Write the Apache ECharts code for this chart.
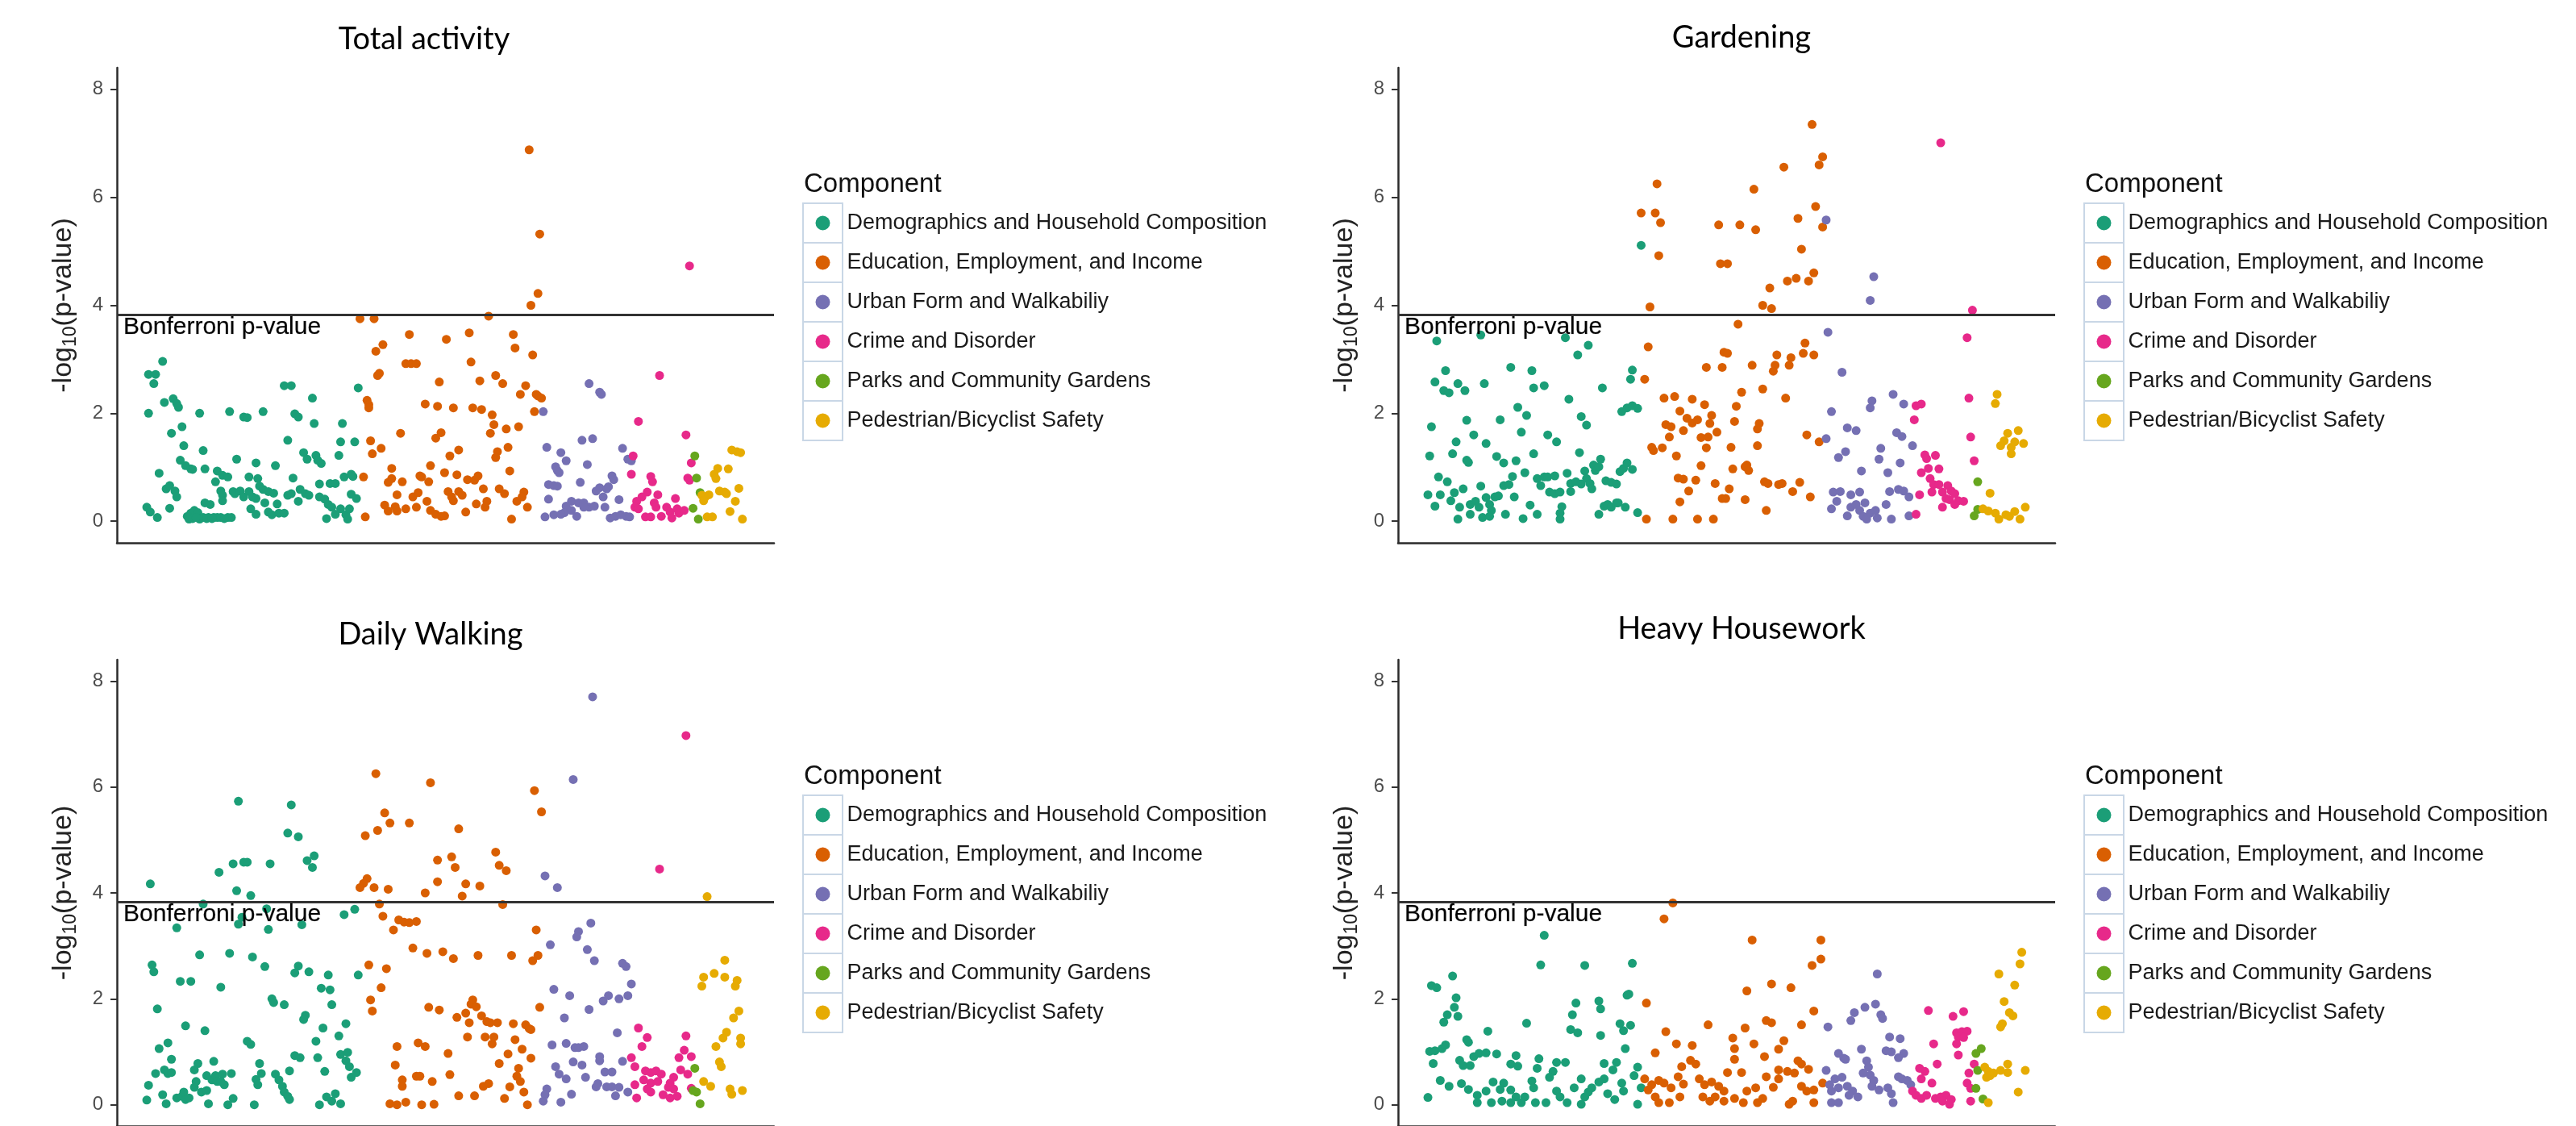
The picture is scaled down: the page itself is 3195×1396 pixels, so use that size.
<!DOCTYPE html>
<html>
<head>
<meta charset="utf-8">
<title>Manhattan plots by component</title>
<script src="https://cdn.jsdelivr.net/npm/echarts@6/dist/echarts.min.js"></script>
<style>
  html, body { margin: 0; padding: 0; background: #fff; }
  #chart { width: 3195px; height: 1396px; }
</style>
</head>
<body>
<div id="chart"></div>
<script>
// number of tested variables (x = variable index) and the Bonferroni cut, -log10(0.05 / 340)
const N_VARS = 340
const BONFERRONI = 3.83
const yTicks = [0, 2, 4, 6, 8]

const components = [
  'Demographics and Household Composition',
  'Education, Employment, and Income',
  'Urban Form and Walkabiliy',
  'Crime and Disorder',
  'Parks and Community Gardens',
  'Pedestrian/Bicyclist Safety'
]
const palette = ['#1B9E77', '#D95F02', '#7570B3', '#E7298A', '#66A61E', '#E6AB02']
const titles = ['Total activity', 'Gardening', 'Daily Walking', 'Heavy Housework']

// [variable index, -log10(p)]
const taDemo = [[10,2.96],[2,2.72],[6,2.72],[5,2.55],[11,2.20],[16,2.27],[18,2.18],[19,2.11],[2,2.00],[31,2.00],[48,2.03],[56,1.93],[58,1.92],[67,2.03],[79,2.51],[83,2.51],[95,2.28],[85,1.99],[87,1.93],[96,1.81],[112,1.81],[121,2.47],[15,1.63],[21,1.75],[22,1.40],[33,1.31],[81,1.50],[111,1.47],[119,1.47],[110,1.22],[90,1.27],[92,1.15],[97,1.22],[98,1.13],[100,1.07],[20,1.13],[23,1.03],[26,0.97],[27,0.96],[34,0.97],[52,1.15],[63,1.08],[74,1.03],[8,0.89],[41,0.93],[44,0.85],[47,0.82],[40,0.73],[59,0.82],[64,0.79],[84,0.80],[113,0.82],[117,0.87],[118,0.83],[12,0.60],[14,0.66],[17,0.56],[18,0.45],[43,0.56],[44,0.48],[50,0.55],[51,0.51],[54,0.56],[56,0.45],[59,0.55],[61,0.45],[63,0.42],[65,0.65],[67,0.59],[70,0.55],[73,0.52],[99,0.69],[105,0.70],[108,0.70],[81,0.48],[83,0.51],[87,0.37],[88,0.59],[91,0.51],[93,0.48],[99,0.45],[102,0.41],[104,0.31],[106,0.26],[117,0.50],[120,0.42],[1,0.26],[3,0.17],[7,0.07],[14,0.24],[24,0.09],[26,0.15],[28,0.20],[30,0.16],[33,0.07],[36,0.07],[39,0.07],[41,0.07],[47,0.07],[49,0.07],[25,0.04],[31,0.04],[27,0.05],[29,0.07],[35,0.05],[38,0.05],[43,0.07],[45,0.05],[34,0.34],[37,0.31],[44,0.38],[60,0.23],[63,0.13],[68,0.34],[70,0.17],[72,0.12],[75,0.32],[76,0.15],[79,0.15],[103,0.05],[108,0.13],[111,0.23],[114,0.12],[115,0.04],[116,0.23]]
const taEdu = [[122,3.75],[130,3.75],[150,3.46],[135,3.27],[131,3.15],[133,2.74],[132,2.70],[148,2.92],[151,2.92],[154,2.92],[167,2.58],[126,2.24],[127,2.16],[127,2.10],[159,2.17],[166,2.13],[145,1.63],[168,1.64],[165,1.54],[128,1.49],[129,1.25],[134,1.35],[140,0.98],[162,1.03],[124,0.82],[138,0.72],[140,0.79],[146,0.73],[156,0.84],[157,0.82],[161,0.73],[143,0.49],[152,0.45],[155,0.53],[136,0.30],[138,0.19],[142,0.27],[143,0.19],[148,0.23],[154,0.26],[160,0.37],[162,0.20],[165,0.13],[168,0.09],[125,0.08],[218,6.88],[224,5.32],[223,4.22],[219,4.00],[195,3.80],[171,3.37],[184,3.49],[209,3.46],[210,3.21],[220,3.08],[185,2.95],[199,2.70],[203,2.55],[190,2.60],[216,2.51],[213,2.35],[222,2.35],[223,2.32],[225,2.28],[175,2.10],[186,2.10],[191,2.07],[197,1.97],[221,2.03],[198,1.79],[205,1.71],[212,1.75],[196,1.63],[178,1.32],[173,1.21],[206,1.37],[200,1.29],[199,1.18],[207,0.93],[170,0.90],[177,0.86],[183,0.77],[187,0.76],[189,0.84],[192,0.60],[172,0.55],[174,0.45],[175,0.38],[178,0.55],[180,0.48],[201,0.60],[204,0.51],[215,0.54],[214,0.45],[211,0.37],[188,0.32],[194,0.37],[193,0.26],[182,0.17],[170,0.10],[208,0.04],[217,0.26]]
const taUrban = [[226,2.03],[252,2.55],[258,2.39],[259,2.35],[228,1.37],[236,1.27],[239,1.12],[248,1.50],[254,1.53],[251,1.05],[271,1.35],[274,1.15],[276,1.12],[233,1.01],[234,0.94],[235,0.90],[229,0.68],[232,0.66],[234,0.65],[247,0.72],[265,0.84],[266,0.77],[229,0.41],[242,0.37],[239,0.28],[238,0.16],[242,0.20],[245,0.09],[246,0.34],[249,0.34],[252,0.26],[255,0.28],[249,0.26],[256,0.56],[258,0.62],[260,0.45],[262,0.60],[263,0.64],[261,0.26],[269,0.40],[227,0.08],[232,0.12],[236,0.13],[264,0.06],[267,0.09],[270,0.12],[273,0.09],[275,0.08]]
const taCrime = [[309,4.73],[292,2.70],[280,1.85],[307,1.60],[277,1.21],[310,1.08],[276,0.87],[287,0.83],[288,0.73],[308,0.80],[309,0.76],[285,0.54],[282,0.45],[279,0.37],[278,0.26],[280,0.23],[291,0.49],[289,0.34],[290,0.26],[284,0.08],[287,0.08],[293,0.09],[296,0.26],[298,0.17],[299,0.06],[301,0.42],[302,0.23],[303,0.15],[306,0.20]]
const taParks = [[312,1.21],[313,0.80],[315,0.53],[311,0.24],[314,0.04]]
const taPed = [[333,1.32],[336,1.29],[338,1.27],[325,0.98],[331,0.97],[323,0.87],[324,0.79],[326,0.56],[329,0.54],[330,0.51],[337,0.61],[316,0.48],[318,0.45],[320,0.49],[317,0.38],[335,0.37],[332,0.18],[319,0.08],[322,0.08],[339,0.04]]

const gdDemo = [[6,3.34],[31,3.45],[79,3.40],[92,3.26],[86,3.08],[11,2.79],[48,2.85],[60,2.79],[5,2.58],[10,2.42],[13,2.38],[18,2.55],[22,2.42],[33,2.55],[61,2.47],[67,2.51],[100,2.47],[117,2.80],[116,2.63],[81,2.26],[52,2.11],[57,1.96],[88,1.94],[91,1.78],[111,2.03],[114,2.10],[117,2.14],[120,2.09],[3,1.75],[23,1.87],[42,1.88],[54,1.65],[27,1.60],[69,1.60],[74,1.47],[17,1.47],[34,1.44],[2,1.21],[15,1.25],[24,1.09],[23,1.13],[40,1.20],[44,1.08],[51,1.12],[61,1.25],[87,1.27],[7,0.82],[12,0.73],[56,0.90],[49,0.83],[80,0.89],[90,0.93],[95,1.04],[96,0.94],[99,1.15],[98,1.01],[110,0.92],[112,0.98],[114,1.08],[117,0.96],[1,0.49],[8,0.49],[14,0.38],[16,0.53],[21,0.60],[31,0.65],[44,0.66],[47,0.68],[63,0.79],[65,0.66],[67,0.82],[69,0.82],[73,0.84],[70,0.54],[73,0.51],[76,0.54],[82,0.70],[82,0.55],[85,0.73],[88,0.69],[91,0.79],[93,0.70],[94,0.60],[102,0.75],[105,0.72],[108,0.69],[5,0.28],[19,0.26],[25,0.31],[28,0.37],[30,0.26],[34,0.44],[36,0.31],[37,0.20],[39,0.45],[41,0.47],[50,0.45],[59,0.30],[77,0.27],[76,0.15],[76,0.04],[101,0.28],[103,0.31],[105,0.26],[108,0.34],[109,0.34],[113,0.26],[18,0.04],[25,0.13],[32,0.07],[36,0.09],[45,0.13],[55,0.05],[63,0.13],[98,0.13],[120,0.16],[122,5.11]]
const gdEdu = [[131,6.25],[122,5.71],[130,5.71],[133,5.53],[132,4.92],[166,5.49],[167,4.77],[127,3.97],[126,3.23],[159,2.85],[168,2.85],[169,3.13],[124,2.63],[135,2.28],[141,2.31],[151,2.26],[158,2.16],[162,1.96],[144,2.04],[148,1.91],[151,1.82],[154,1.88],[136,1.79],[139,1.75],[146,1.68],[161,1.81],[165,1.65],[138,1.56],[156,1.55],[160,1.56],[128,1.37],[129,1.31],[134,1.36],[142,1.21],[159,1.36],[156,1.03],[143,0.80],[146,0.78],[153,0.76],[149,0.56],[164,0.70],[144,0.36],[168,0.42],[125,0.04],[140,0.04],[154,0.04],[163,0.04],[219,7.35],[225,6.75],[223,6.60],[203,6.56],[186,6.15],[221,5.83],[211,5.61],[178,5.49],[187,5.40],[225,5.45],[213,5.04],[171,4.77],[220,4.60],[210,4.50],[205,4.45],[217,4.45],[195,4.32],[191,4.00],[196,3.94],[177,3.65],[215,3.30],[214,3.11],[220,3.08],[199,3.08],[171,3.11],[207,3.03],[206,2.89],[198,2.89],[197,2.78],[185,2.89],[179,2.39],[191,2.45],[204,2.28],[176,2.13],[175,1.85],[189,1.81],[188,1.71],[216,1.60],[223,1.47],[173,1.37],[188,1.40],[174,0.97],[182,1.04],[183,0.94],[181,1.01],[192,0.73],[194,0.70],[200,0.68],[202,0.70],[212,0.72],[208,0.55],[172,0.60],[170,0.42],[181,0.40],[218,0.45],[193,0.20]]
const gdUrban = [[227,5.58],[254,4.53],[252,4.09],[228,3.50],[236,2.76],[265,2.35],[253,2.23],[252,2.10],[271,2.17],[230,2.03],[239,1.73],[244,1.68],[267,1.64],[270,1.57],[276,1.40],[227,1.53],[238,1.29],[234,1.18],[258,1.35],[257,1.15],[269,1.08],[247,0.93],[262,0.90],[231,0.54],[235,0.55],[233,0.37],[241,0.49],[246,0.54],[263,0.55],[268,0.59],[271,0.56],[274,0.45],[230,0.23],[241,0.26],[244,0.31],[249,0.34],[246,0.20],[239,0.10],[248,0.09],[252,0.15],[255,0.20],[256,0.06],[261,0.31],[264,0.04],[274,0.10],[250,0.04]]
const gdCrime = [[292,7.01],[310,3.91],[307,3.40],[308,2.28],[278,2.14],[281,2.17],[277,1.88],[309,1.56],[283,1.23],[289,1.22],[284,1.16],[311,1.12],[281,0.90],[285,0.98],[291,0.97],[286,0.79],[288,0.68],[291,0.68],[296,0.66],[287,0.54],[293,0.54],[298,0.56],[300,0.51],[295,0.42],[297,0.40],[302,0.38],[305,0.37],[300,0.31],[280,0.49],[293,0.26],[278,0.13]]
const gdParks = [[313,0.73],[313,0.22],[311,0.10]]
const gdPed = [[324,2.35],[323,2.18],[330,1.63],[336,1.68],[328,1.49],[326,1.40],[332,1.37],[334,1.47],[339,1.44],[332,1.25],[320,0.52],[316,0.23],[319,0.19],[323,0.15],[325,0.04],[329,0.12],[331,0.09],[334,0.18],[337,0.04],[340,0.26]]

const dwDemo = [[53,5.73],[83,5.66],[81,5.13],[87,5.06],[42,4.39],[50,4.55],[56,4.58],[58,4.58],[71,4.55],[92,4.61],[96,4.70],[95,4.48],[3,4.17],[52,4.04],[60,3.95],[33,3.79],[69,3.70],[113,3.59],[119,3.69],[18,3.34],[53,3.41],[70,3.31],[89,3.40],[55,3.54],[31,2.83],[48,2.86],[61,2.79],[4,2.64],[5,2.51],[68,2.61],[87,2.62],[85,2.49],[93,2.51],[104,2.45],[121,2.45],[20,2.33],[26,2.33],[43,2.22],[100,2.20],[105,2.17],[72,2.00],[73,1.93],[79,1.89],[106,1.89],[7,1.81],[91,1.69],[90,1.61],[23,1.49],[34,1.40],[101,1.45],[114,1.53],[110,1.30],[13,1.17],[8,1.06],[58,1.20],[60,1.14],[97,1.20],[15,0.86],[85,0.93],[88,0.89],[98,0.89],[111,0.95],[115,0.99],[114,0.83],[116,0.72],[117,0.52],[120,0.61],[39,0.82],[30,0.78],[28,0.66],[65,0.78],[6,0.59],[11,0.66],[13,0.59],[15,0.61],[35,0.55],[38,0.47],[40,0.55],[41,0.44],[44,0.58],[45,0.38],[49,0.59],[43,0.44],[63,0.48],[66,0.59],[64,0.38],[74,0.58],[76,0.47],[78,0.35],[79,0.24],[81,0.16],[82,0.10],[82,0.64],[102,0.63],[2,0.37],[10,0.19],[12,0.02],[1,0.09],[18,0.13],[21,0.16],[22,0.24],[23,0.10],[25,0.13],[28,0.33],[29,0.44],[32,0.24],[35,0.27],[36,0.02],[47,0.00],[50,0.12],[62,0.00],[99,0.00],[103,0.15],[106,0.07],[108,0.21],[111,0.02]]
const dwEdu = [[131,6.25],[162,6.08],[136,5.51],[132,5.18],[139,5.32],[150,5.32],[125,5.08],[166,4.62],[126,4.27],[124,4.18],[122,4.10],[130,4.10],[138,4.07],[166,4.21],[159,4.00],[133,3.79],[135,3.56],[144,3.49],[147,3.45],[150,3.44],[154,3.46],[141,3.30],[152,2.96],[160,2.86],[169,2.89],[127,2.64],[137,2.57],[134,2.21],[128,1.98],[129,1.77],[161,1.84],[167,1.79],[143,1.10],[155,1.17],[159,1.10],[142,0.75],[146,0.47],[146,0.35],[154,0.54],[156,0.54],[163,0.44],[139,0.02],[143,0.00],[148,0.05],[157,0.00],[164,0.01],[221,5.93],[225,5.53],[178,5.21],[174,4.68],[176,4.48],[199,4.77],[201,4.52],[205,4.42],[182,4.17],[190,4.13],[180,3.94],[203,3.78],[222,3.30],[175,2.76],[189,2.82],[208,2.82],[220,2.72],[223,2.82],[186,1.98],[185,1.90],[188,1.85],[177,1.65],[182,1.73],[184,1.55],[191,1.68],[194,1.57],[196,1.55],[200,1.55],[224,1.84],[209,1.53],[216,1.51],[218,1.44],[219,1.42],[183,1.28],[193,1.28],[198,1.28],[197,1.15],[210,1.23],[214,1.05],[172,0.97],[206,0.96],[219,0.88],[201,0.78],[212,0.69],[211,0.54],[213,0.44],[215,0.24],[173,0.57],[192,0.35],[195,0.40],[207,0.34],[178,0.17],[187,0.17],[204,0.12],[217,0.00]]
const dwUrban = [[254,7.70],[243,6.14],[227,4.32],[234,4.10],[253,3.43],[246,3.27],[245,3.17],[230,3.02],[251,2.93],[255,2.72],[271,2.67],[273,2.61],[276,2.28],[274,2.06],[232,2.18],[241,2.06],[252,1.80],[260,1.96],[263,2.06],[269,2.00],[238,1.64],[268,1.36],[231,1.13],[239,1.16],[244,1.08],[246,1.08],[249,1.10],[258,0.91],[258,0.83],[271,0.82],[243,0.81],[248,0.75],[233,0.72],[235,0.58],[239,0.49],[250,0.52],[261,0.62],[265,0.62],[256,0.34],[257,0.40],[262,0.34],[265,0.34],[269,0.33],[274,0.24],[267,0.17],[228,0.30],[227,0.19],[226,0.07],[236,0.05],[242,0.20]]
const dwCrime = [[307,6.97],[292,4.45],[280,1.45],[285,1.27],[282,1.10],[307,1.30],[306,1.03],[310,0.91],[303,0.89],[276,0.89],[278,0.72],[284,0.64],[287,0.61],[290,0.64],[293,0.58],[283,0.47],[287,0.41],[291,0.44],[278,0.38],[285,0.30],[287,0.24],[304,0.66],[308,0.58],[300,0.52],[298,0.41],[297,0.33],[300,0.30],[279,0.13],[294,0.19],[298,0.13],[302,0.16],[310,0.31]]
const dwParks = [[312,0.69],[311,0.27],[313,0.24],[315,0.02]]
const dwPed = [[319,3.93],[329,2.73],[323,2.48],[329,2.41],[317,2.41],[336,2.35],[335,2.24],[316,2.24],[337,1.77],[334,1.64],[330,1.37],[328,1.26],[324,1.10],[338,1.26],[338,1.15],[326,0.81],[327,0.72],[317,0.44],[321,0.35],[332,0.30],[333,0.20],[339,0.27]]

const hhDemo = [[67,3.20],[65,2.64],[90,2.63],[117,2.67],[15,2.43],[3,2.25],[6,2.21],[115,2.09],[114,2.07],[17,2.02],[16,1.84],[18,1.67],[12,1.70],[10,1.56],[85,1.92],[83,1.70],[98,1.96],[99,1.81],[57,1.54],[35,1.39],[82,1.42],[86,1.36],[99,1.31],[110,1.53],[112,1.40],[116,1.50],[23,1.23],[24,1.18],[2,1.01],[5,1.02],[9,1.06],[11,1.13],[113,1.06],[4,0.78],[19,0.84],[21,0.74],[25,0.74],[27,0.91],[30,0.97],[34,0.98],[40,0.96],[51,0.93],[48,0.77],[52,0.73],[64,0.87],[63,0.69],[74,0.80],[79,0.80],[72,0.63],[70,0.52],[101,0.78],[108,0.80],[106,0.66],[120,0.71],[118,0.55],[8,0.46],[13,0.35],[20,0.40],[24,0.29],[29,0.18],[34,0.26],[38,0.43],[42,0.29],[44,0.41],[48,0.28],[51,0.15],[60,0.45],[61,0.32],[56,0.15],[62,0.04],[74,0.26],[76,0.15],[80,0.04],[84,0.32],[88,0.49],[90,0.15],[92,0.24],[94,0.32],[98,0.43],[101,0.49],[103,0.21],[107,0.10],[111,0.41],[29,0.04],[37,0.04],[43,0.07],[48,0.04],[54,0.04],[68,0.04],[88,0.01],[120,0.01],[1,0.14],[112,0.26],[122,0.32]]
const hhEdu = [[140,3.81],[135,3.51],[185,3.11],[224,3.11],[224,2.75],[219,2.63],[182,2.15],[196,2.28],[207,2.21],[125,1.92],[220,1.77],[160,1.51],[193,1.59],[196,1.55],[181,1.45],[213,1.51],[136,1.38],[174,1.26],[186,1.15],[203,1.21],[142,1.15],[151,1.12],[130,0.98],[175,1.06],[200,1.05],[192,0.91],[150,0.84],[153,0.77],[145,0.72],[211,0.83],[213,0.77],[175,0.86],[171,0.61],[179,0.61],[200,0.66],[205,0.63],[209,0.60],[217,0.67],[193,0.53],[124,0.49],[128,0.38],[132,0.46],[135,0.41],[139,0.32],[143,0.53],[146,0.39],[155,0.49],[158,0.38],[162,0.43],[166,0.35],[169,0.26],[182,0.26],[187,0.32],[197,0.33],[200,0.49],[213,0.35],[216,0.26],[220,0.28],[225,0.41],[126,0.28],[130,0.15],[132,0.04],[138,0.04],[144,0.15],[157,0.15],[161,0.07],[164,0.15],[169,0.07],[175,0.12],[180,0.04],[188,0.04],[191,0.12],[206,0.01],[208,0.07],[220,0.04]]
const hhUrban = [[256,2.47],[255,1.90],[249,1.84],[243,1.74],[241,1.59],[258,1.70],[259,1.63],[228,1.47],[263,1.28],[269,1.25],[247,1.05],[261,1.02],[264,1.00],[271,0.97],[268,0.89],[234,0.97],[237,0.88],[238,0.86],[250,0.83],[251,0.71],[248,0.60],[252,0.56],[227,0.65],[232,0.49],[236,0.52],[229,0.38],[254,0.46],[253,0.35],[257,0.28],[262,0.32],[264,0.21],[265,0.04],[268,0.53],[270,0.49],[273,0.46],[275,0.38],[230,0.26],[234,0.32],[239,0.35],[242,0.26],[245,0.15],[230,0.04],[234,0.04],[240,0.18]]
const hhCrime = [[285,1.78],[299,1.67],[305,1.76],[301,1.36],[304,1.38],[307,1.39],[302,1.28],[305,1.27],[301,1.15],[288,1.15],[302,0.94],[290,0.77],[311,0.77],[308,0.60],[280,0.69],[283,0.63],[281,0.49],[287,0.41],[307,0.41],[309,0.31],[276,0.26],[278,0.18],[281,0.12],[284,0.18],[289,0.12],[292,0.15],[295,0.18],[293,0.07],[298,0.10],[297,0.01],[309,0.07]]
const hhParks = [[315,1.06],[312,0.97],[313,0.65],[312,0.31],[316,0.11]]
const hhPed = [[338,2.88],[337,2.66],[325,2.47],[334,2.26],[328,1.95],[331,1.74],[333,1.68],[327,1.53],[326,1.47],[317,0.71],[319,0.63],[322,0.60],[326,0.65],[330,0.77],[330,0.61],[320,0.55],[318,0.52],[340,0.65],[336,0.24],[319,0.04]]

const panelData = [
  [taDemo, taEdu, taUrban, taCrime, taParks, taPed],
  [gdDemo, gdEdu, gdUrban, gdCrime, gdParks, gdPed],
  [dwDemo, dwEdu, dwUrban, dwCrime, dwParks, dwPed],
  [hhDemo, hhEdu, hhUrban, hhCrime, hhParks, hhPed]
]

// layout (px)
const colLeft = [145, 1734]
const rowTop = [84, 818]
const rowHeight = [589, 588]
const plotWidth = 815
const titlePos = [[526, 49], [2160, 47], [534, 787], [2160, 780]]
const legendBoxLeft = [996, 2585]
const legendTop = [252, 986]
const keySize = 49

// ggplot-like 5% expansion of the x range
const xPad = 0.05 * (N_VARS - 1)

const chart = echarts.init(document.getElementById('chart'))

const grids = []
const xAxes = []
const yAxes = []
const series = []
const legends = []
const graphics = []

for (let p = 0; p < 4; p++) {
  const col = p % 2
  const row = Math.floor(p / 2)
  grids.push({ left: colLeft[col], top: rowTop[row], width: plotWidth, height: rowHeight[row] })
  xAxes.push({
    gridIndex: p,
    type: 'value',
    min: 1 - xPad,
    max: N_VARS + xPad,
    axisLine: { show: true, onZero: false, lineStyle: { color: '#2b2b2b', width: 2.5 } },
    axisTick: { show: false },
    axisLabel: { show: false },
    splitLine: { show: false }
  })
  yAxes.push({
    gridIndex: p,
    type: 'value',
    min: -0.4,
    max: 8.4,
    name: '-log{sub|10}(p-value)',
    nameLocation: 'middle',
    nameRotate: 90,
    nameGap: 46,
    nameTextStyle: {
      fontFamily: 'Liberation Sans',
      fontSize: 34,
      color: '#222',
      lineHeight: 40,
      rich: {
        sub: { fontFamily: 'Liberation Sans', fontSize: 23, color: '#222', verticalAlign: 'bottom', lineHeight: 40 }
      }
    },
    axisLine: { show: true, onZero: false, lineStyle: { color: '#2b2b2b', width: 2.5 } },
    axisTick: { show: true, length: 8, customValues: yTicks, lineStyle: { color: '#333', width: 2 } },
    axisLabel: { customValues: yTicks, margin: 17, fontFamily: 'Liberation Sans', fontSize: 24, color: '#4d4d4d' },
    splitLine: { show: false }
  })

  panelData[p].forEach((data, c) => {
    const s = {
      name: components[c],
      type: 'scatter',
      xAxisIndex: p,
      yAxisIndex: p,
      data: data,
      symbol: 'circle',
      symbolSize: 11,
      itemStyle: { color: palette[c], opacity: 1 },
      emphasis: { disabled: true },
      animation: false
    }
    if (c === 0) {
      s.markLine = {
        silent: true,
        animation: false,
        symbol: ['none', 'none'],
        lineStyle: { color: '#333', width: 3, type: 'solid' },
        label: {
          show: true,
          position: 'insideStartBottom',
          formatter: 'Bonferroni p-value',
          distance: [8, 1],
          fontFamily: 'Liberation Sans',
          fontSize: 30,
          color: '#000',
          textBorderColor: 'rgba(0,0,0,0.35)',
          textBorderWidth: 0.6
        },
        emphasis: { disabled: true },
        data: [{ yAxis: BONFERRONI }]
      }
    }
    series.push(s)
  })

  graphics.push({
    type: 'text',
    x: titlePos[p][0],
    y: titlePos[p][1],
    style: {
      text: titles[p],
      font: '38px Lato',
      fill: '#000',
      align: 'center',
      verticalAlign: 'middle',
      textAlign: 'center',
      textVerticalAlign: 'middle'
    }
  })

  // legend: title, key boxes, then the library legend on top
  const boxLeft = legendBoxLeft[col]
  const top = legendTop[row]
  graphics.push({
    type: 'text',
    x: boxLeft + 1,
    y: top - 23,
    style: {
      text: 'Component',
      font: '33px "Liberation Sans"',
      fill: '#111',
      align: 'left',
      verticalAlign: 'middle',
      textAlign: 'left',
      textVerticalAlign: 'middle'
    }
  })
  for (let k = 0; k < components.length; k++) {
    graphics.push({
      type: 'rect',
      z: 0,
      shape: { x: boxLeft, y: top + k * keySize, width: keySize, height: keySize },
      style: { fill: 'none', stroke: '#c9d7e6', lineWidth: 2 }
    })
  }
  legends.push({
    orient: 'vertical',
    left: boxLeft + (keySize - 18) / 2,
    top: top,
    padding: 0,
    itemGap: 0,
    itemWidth: 18,
    itemHeight: 18,
    icon: 'circle',
    selectedMode: false,
    data: components,
    textStyle: {
      fontFamily: 'Liberation Sans',
      fontSize: 27,
      color: '#1a1a1a',
      lineHeight: keySize,
      padding: [0, 0, 0, 16]
    }
  })
}

chart.setOption({
  backgroundColor: '#fff',
  animation: false,
  grid: grids,
  xAxis: xAxes,
  yAxis: yAxes,
  legend: legends,
  graphic: graphics,
  series: series
})
</script>
</body>
</html>
